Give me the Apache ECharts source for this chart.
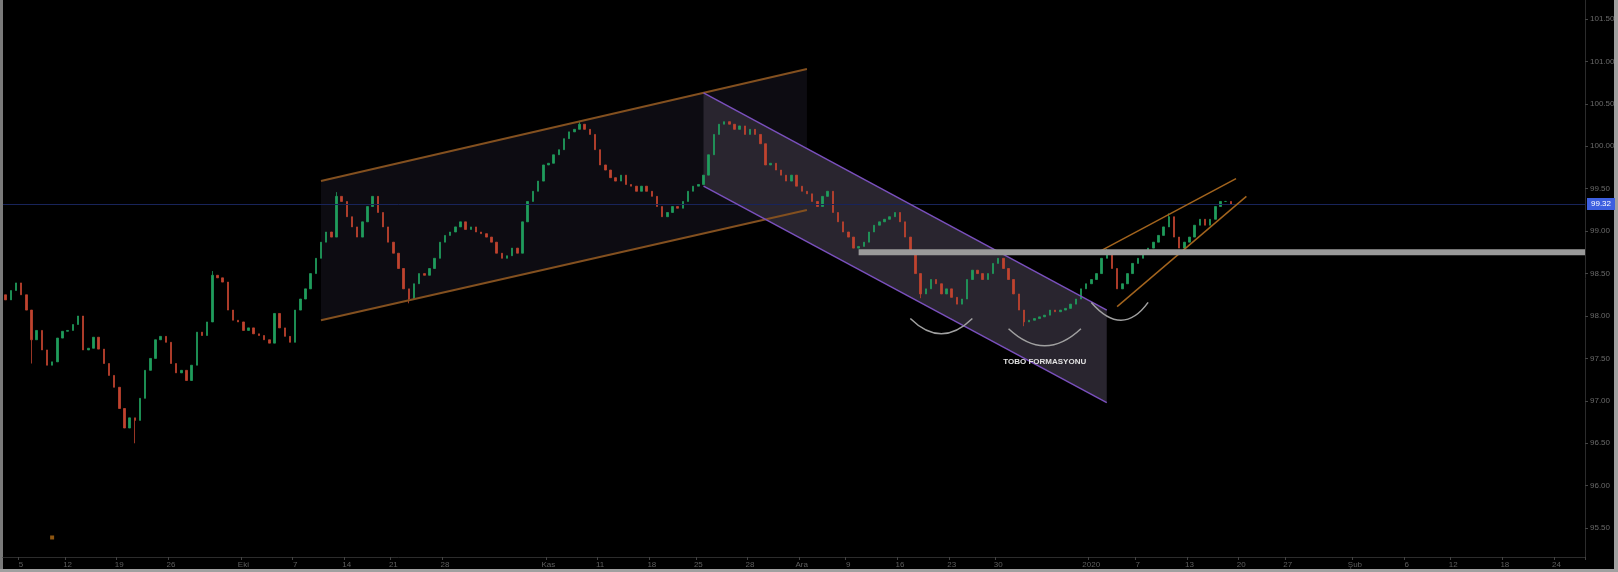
<!DOCTYPE html>
<html>
<head>
<meta charset="utf-8">
<script src="https://cdn.jsdelivr.net/npm/echarts@6/dist/echarts.min.js"></script>
<style>
html,body{margin:0;padding:0;background:#000;}
#c{width:1618px;height:572px;}
</style>
</head>
<body>
<div id="c"></div>
<script>
// ---- data ----
const firstOpen = 98.25;
const closes = [98.19, 98.30, 98.39, 98.25, 98.07, 97.72, 97.83, 97.60, 97.42, 97.46,
97.74, 97.82, 97.83, 97.90, 98.00, 97.60, 97.62, 97.75, 97.61, 97.44,
97.30, 97.16, 96.91, 96.68, 96.80, 96.77, 97.03, 97.36, 97.50, 97.72,
97.76, 97.69, 97.44, 97.33, 97.36, 97.24, 97.42, 97.81, 97.77, 97.93,
98.48, 98.45, 98.40, 98.07, 97.95, 97.93, 97.83, 97.86, 97.79, 97.77,
97.72, 97.68, 98.03, 97.86, 97.76, 97.69, 98.07, 98.20, 98.32, 98.50,
98.68, 98.87, 98.99, 98.93, 99.41, 99.35, 99.17, 99.05, 98.93, 99.11,
99.29, 99.41, 99.22, 99.05, 98.87, 98.74, 98.56, 98.32, 98.20, 98.38,
98.50, 98.48, 98.56, 98.68, 98.87, 98.95, 98.99, 99.05, 99.11, 99.02,
99.05, 98.99, 98.97, 98.93, 98.87, 98.74, 98.68, 98.71, 98.80, 98.74,
99.11, 99.35, 99.47, 99.59, 99.78, 99.80, 99.90, 99.96, 100.09, 100.17,
100.20, 100.26, 100.20, 100.14, 99.96, 99.78, 99.72, 99.63, 99.59, 99.66,
99.55, 99.53, 99.47, 99.53, 99.47, 99.41, 99.29, 99.17, 99.22, 99.29,
99.27, 99.35, 99.47, 99.53, 99.55, 99.66, 99.90, 100.14, 100.26, 100.29,
100.26, 100.20, 100.24, 100.14, 100.20, 100.14, 100.03, 99.78, 99.80, 99.72,
99.66, 99.59, 99.66, 99.53, 99.47, 99.44, 99.35, 99.29, 99.41, 99.47,
99.22, 99.11, 98.99, 98.93, 98.80, 98.82, 98.87, 98.99, 99.07, 99.11,
99.14, 99.17, 99.22, 99.11, 98.93, 98.74, 98.50, 98.26, 98.32, 98.43,
98.38, 98.26, 98.32, 98.22, 98.14, 98.20, 98.43, 98.54, 98.50, 98.43,
98.50, 98.62, 98.68, 98.56, 98.43, 98.26, 98.07, 97.93, 97.95, 97.97,
97.99, 98.01, 98.07, 98.05, 98.07, 98.09, 98.14, 98.20, 98.32, 98.38,
98.43, 98.50, 98.68, 98.74, 98.56, 98.32, 98.38, 98.50, 98.62, 98.68,
98.74, 98.80, 98.87, 98.95, 99.05, 99.17, 98.93, 98.80, 98.87, 98.93,
99.07, 99.14, 99.07, 99.14, 99.29, 99.35, 99.35, 99.32];
const lowWicks = [[5, 97.44], [25, 96.50], [78, 98.15], [177, 98.21], [197, 97.88]];
const highWicks = [[40, 98.53], [64, 99.46], [111, 100.30], [213, 98.79], [225, 99.21]];

const slotCount = 306;
const xTickLabels = [[3,'5'],[12,'12'],[22,'19'],[32,'26'],[46,'Eki'],[56,'7'],[66,'14'],[75,'21'],[85,'28'],
  [105,'Kas'],[115,'11'],[125,'18'],[134,'25'],[144,'28'],[154,'Ara'],[163,'9'],[173,'16'],[183,'23'],[192,'30'],
  [210,'2020'],[219,'7'],[229,'13'],[239,'20'],[248,'27'],[261,'Şub'],[271,'6'],[280,'12'],[290,'18'],[300,'24']];
const yTicks = [95.5, 96.0, 96.5, 97.0, 97.5, 98.0, 98.5, 99.0, 99.5, 100.0, 100.5, 101.0, 101.5];
const lastPrice = 99.32;

// drawing annotations (index, price)
const ascChannel = [[61, 99.59], [155, 100.91], [61, 97.95], [155, 99.25]];
const descChannel = [[135, 100.63], [213, 98.07], [135, 99.53], [213, 96.98]];
const smallChannel = [[211, 98.74], [238, 99.62], [215, 98.11], [240, 99.41]];
const supportLevel = [165, 98.75];
const cupArcs = [[175, 187, 97.97, 97.79], [194, 208, 97.85, 97.65], [210, 221, 98.16, 97.95]];
const noteText = 'TOBO FORMASYONU';
const notePos = [201, 97.46];
const markerPoint = [9, 95.39];

// ---- build ----
const cats = [];
const labelMap = {};
xTickLabels.forEach(([i, t]) => labelMap[i] = t);
for (let i = 0; i < slotCount; i++) cats.push(labelMap[i] !== undefined ? labelMap[i] : '');

const lowMap = {}, highMap = {};
lowWicks.forEach(([i, v]) => lowMap[i] = v);
highWicks.forEach(([i, v]) => highMap[i] = v);
const candles = closes.map((c, i) => {
  const o = i === 0 ? firstOpen : closes[i - 1];
  const lo = lowMap[i] !== undefined ? lowMap[i] : Math.min(o, c);
  const hi = highMap[i] !== undefined ? highMap[i] : Math.max(o, c);
  return [o, c, lo, hi];
});

const chart = echarts.init(document.getElementById('c'), null, {renderer: 'canvas'});

function fillRender(params, api) {
  const c = p => api.coord(p);
  const poly = (ch, fill) => ({type: 'polygon', shape: {points: [c(ch[0]), c(ch[1]), c(ch[3]), c(ch[2])]}, style: {fill: fill}});
  return {type: 'group', children: [poly(ascChannel, '#0d0c12'), poly(descChannel, '#29252f')]};
}

function lineRender(params, api) {
  const c = p => api.coord(p);
  const seg = (a, b, stroke, w) => {
    const p1 = c(a), p2 = c(b);
    return {type: 'line', shape: {x1: p1[0], y1: p1[1], x2: p2[0], y2: p2[1]}, style: {stroke: stroke, lineWidth: w}};
  };
  const ch = [];
  ch.push(seg(ascChannel[0], ascChannel[1], '#83501f', 2));
  ch.push(seg(ascChannel[2], ascChannel[3], '#83501f', 2));
  ch.push(seg(descChannel[0], descChannel[1], '#7a50bd', 1.5));
  ch.push(seg(descChannel[2], descChannel[3], '#7a50bd', 1.5));
  ch.push(seg(smallChannel[0], smallChannel[1], '#a3641d', 1.5));
  ch.push(seg(smallChannel[2], smallChannel[3], '#a3641d', 1.5));
  const s = c(supportLevel);
  const right = params.coordSys.x + params.coordSys.width;
  ch.push({type: 'line', shape: {x1: s[0], y1: s[1], x2: right, y2: s[1]}, style: {stroke: '#9a9a9a', lineWidth: 6}});
  cupArcs.forEach(a => {
    const p1 = c([a[0], a[2]]), p2 = c([a[1], a[2]]), pb = c([(a[0] + a[1]) / 2, a[3]]);
    ch.push({type: 'bezierCurve', shape: {x1: p1[0], y1: p1[1], x2: p2[0], y2: p2[1], cpx1: pb[0], cpy1: 2 * pb[1] - p1[1]},
      style: {stroke: '#a0a0a0', lineWidth: 1.5, fill: 'none'}});
  });
  const t = c(notePos);
  ch.push({type: 'text', x: t[0], y: t[1], style: {text: noteText, fill: '#e0e0e0', font: 'bold 8px "Liberation Sans", Arial, sans-serif', align: 'center', verticalAlign: 'middle'}});
  return {type: 'group', children: ch};
}

const showIdx = (idx, val) => val !== '';

chart.setOption({
  backgroundColor: '#000',
  animation: false,
  grid: {left: 3, right: 33, top: 0, bottom: 15},
  xAxis: {
    type: 'category', data: cats, boundaryGap: true,
    axisLine: {show: true, lineStyle: {color: '#2c2c2c', width: 1}},
    axisTick: {show: true, interval: showIdx, length: 3, lineStyle: {color: '#444'}},
    axisLabel: {interval: showIdx, color: '#5e5e5e', fontSize: 8, margin: 4, fontFamily: 'Liberation Sans'},
    splitLine: {show: false}
  },
  yAxis: {
    type: 'value', position: 'right', min: 95.16, max: 101.724, scale: true,
    axisLine: {show: true, lineStyle: {color: '#2c2c2c', width: 1}},
    axisTick: {show: true, length: 3, customValues: yTicks, lineStyle: {color: '#444'}},
    axisLabel: {customValues: yTicks, color: '#6a6a6a', fontSize: 8, margin: 5, fontFamily: 'Liberation Sans',
      formatter: v => v.toFixed(2)},
    splitLine: {show: false}
  },
  series: [
    {type: 'custom', z: 1, renderItem: fillRender, data: [[0]], silent: true, clip: false},
    {
      type: 'candlestick', z: 3, data: candles, barWidth: 2,
      itemStyle: {color: '#1f9c5c', color0: '#bf432f', borderColor: '#1f9c5c', borderColor0: '#bf432f', borderWidth: 0.8},
      markLine: {
        silent: true, symbol: ['none', 'none'], animation: false,
        lineStyle: {color: '#18245a', width: 1, type: 'solid'},
        label: {show: true, position: 'end', distance: 2, formatter: lastPrice.toFixed(2), color: '#fff',
          backgroundColor: '#3d5fe0', padding: [2, 4], fontSize: 8, fontFamily: 'Liberation Sans'},
        data: [{yAxis: lastPrice}]
      }
    },
    {type: 'custom', z: 5, renderItem: lineRender, data: [[0]], silent: true, clip: false},
    {type: 'scatter', z: 4, data: [markerPoint], symbol: 'rect', symbolSize: 4, itemStyle: {color: '#b06a14'}, silent: true}
  ],
  graphic: [
    {type: 'rect', left: 0, top: 0, shape: {width: 3, height: 572}, style: {fill: '#7a7a7a'}, silent: true},
    {type: 'rect', left: 1614, top: 0, shape: {width: 4, height: 572}, style: {fill: '#a0a0a0'}, silent: true},
    {type: 'rect', left: 0, top: 569, shape: {width: 1618, height: 3}, style: {fill: '#a0a0a0'}, silent: true}
  ]
});
</script>
</body>
</html>
